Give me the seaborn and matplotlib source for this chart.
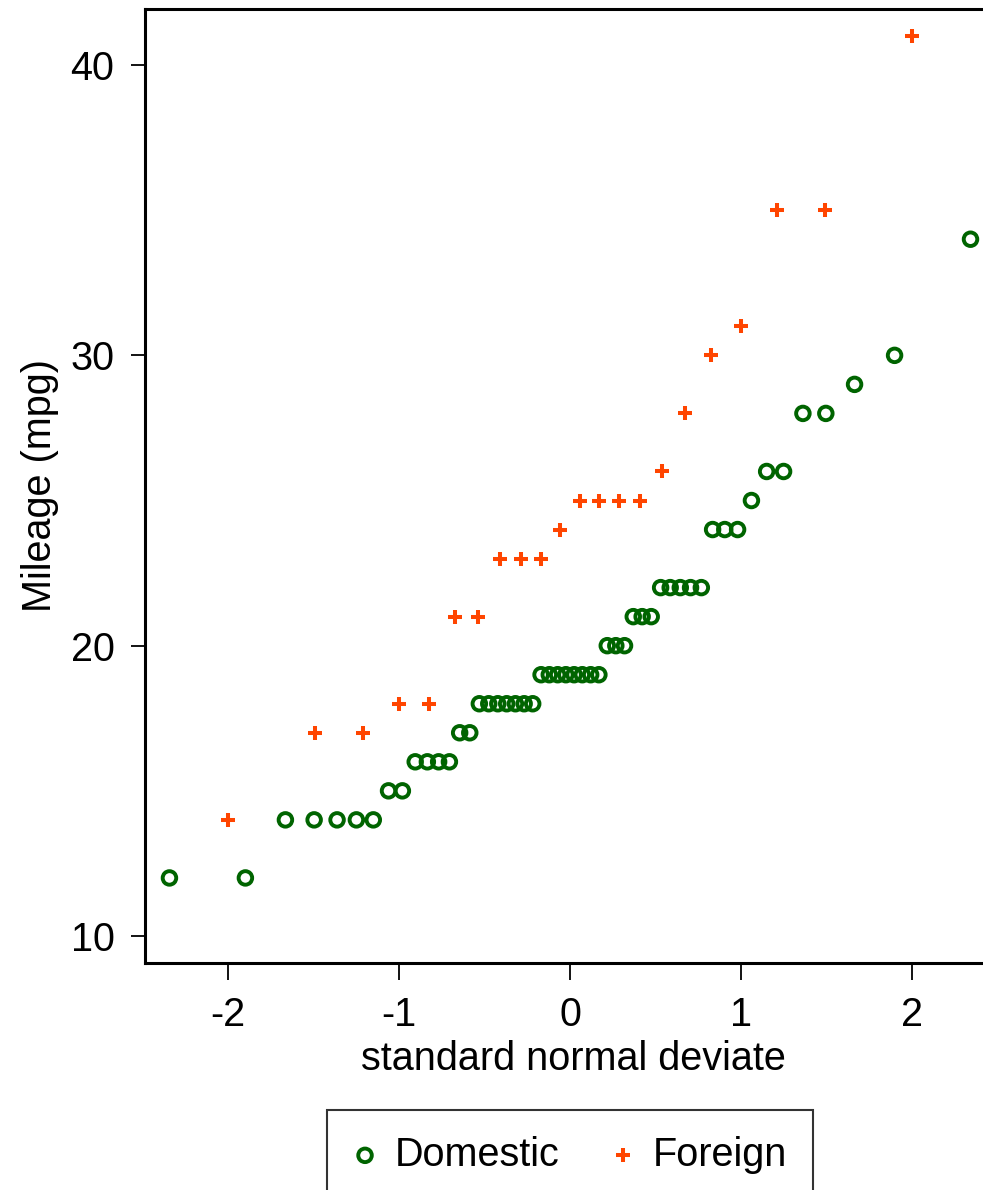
import matplotlib
matplotlib.use("Agg")
import matplotlib.pyplot as plt
import seaborn as sns
import pandas as pd

# Domestic cars: mileage (sorted) and plotting position (standard normal deviate)
dom_mpg = [12, 12, 14, 14, 14, 14, 14, 15, 15, 16, 16, 16, 16, 17, 17,
           18, 18, 18, 18, 18, 18, 18, 19, 19, 19, 19, 19, 19, 19, 19,
           20, 20, 20, 21, 21, 21, 22, 22, 22, 22, 22, 24, 24, 24, 25,
           26, 26, 28, 28, 29, 30, 34]
dom_z = [-2.342, -1.898, -1.664, -1.496, -1.362, -1.249, -1.150, -1.061, -0.980,
         -0.905, -0.834, -0.768, -0.705, -0.645, -0.586, -0.530, -0.475, -0.422,
         -0.370, -0.319, -0.268, -0.218, -0.169, -0.121, -0.072, -0.024,
         0.024, 0.072, 0.121, 0.169, 0.218, 0.268, 0.319, 0.370, 0.422, 0.475,
         0.530, 0.586, 0.645, 0.705, 0.768, 0.834, 0.905, 0.980, 1.061, 1.150,
         1.249, 1.362, 1.496, 1.664, 1.898, 2.342]

# Foreign cars
for_mpg = [14, 17, 17, 18, 18, 21, 21, 23, 23, 23, 24, 25, 25, 25, 25,
           26, 28, 30, 31, 35, 35, 41]
for_z = [-2.000, -1.491, -1.208, -0.998, -0.825, -0.674, -0.537, -0.410, -0.289,
         -0.172, -0.057, 0.057, 0.172, 0.289, 0.410, 0.537, 0.674, 0.825, 0.998,
         1.208, 1.491, 2.000]

x_ticks = [-2, -1, 0, 1, 2]
y_ticks = [10, 20, 30, 40]
groups = ["Domestic", "Foreign"]

sns.set_style("white")
plt.rcParams['font.family'] = ['Liberation Sans', 'DejaVu Sans']
plt.rcParams['text.color'] = 'black'
plt.rcParams['axes.labelcolor'] = 'black'

FS = 28.5

fig = plt.figure(figsize=(9.83, 11.9), dpi=100)
ax = fig.add_axes([145/983, 227/1190, 1.02 - 145/983, (1181 - 227)/1190])

dom = pd.DataFrame({"z": dom_z, "mpg": dom_mpg})
frn = pd.DataFrame({"z": for_z, "mpg": for_mpg})

green = "#006400"
orange = "#ff4500"

sns.scatterplot(data=dom, x="z", y="mpg", ax=ax, marker="o", s=95,
                facecolors="none", edgecolor=green, linewidth=2.8,
                label=groups[0])
sns.scatterplot(data=frn, x="z", y="mpg", ax=ax, marker="+", s=105,
                color=orange, linewidth=2.9, label=groups[1])

ax.set_xlim(-2.485, 2.53)
ax.set_ylim(9.07, 41.93)
ax.set_xticks(x_ticks)
ax.set_yticks(y_ticks)
ax.set_xticklabels([str(t) for t in x_ticks])
ax.set_yticklabels([str(t) for t in y_ticks])

for side in ["left", "bottom", "top"]:
    ax.spines[side].set_visible(True)
    ax.spines[side].set_linewidth(2.2)
    ax.spines[side].set_color("black")
ax.spines["right"].set_visible(False)

ax.tick_params(axis="x", direction="out", length=12, width=1.3, pad=12,
               labelsize=FS, colors="black", bottom=True)
ax.tick_params(axis="y", direction="out", length=10, width=1.3, pad=12,
               labelsize=FS, colors="black", left=True)

ax.set_xlabel("standard normal deviate", fontsize=FS, labelpad=4)
ax.set_ylabel("Mileage (mpg)", fontsize=FS, labelpad=8)

ax.get_legend().remove()
handles, labels = ax.get_legend_handles_labels()
leg = fig.legend(handles, labels, loc="upper center",
                 bbox_to_anchor=(570/983, (1190 - 1110)/1190),
                 borderaxespad=0.0,
                 ncol=2, frameon=True, fontsize=FS, fancybox=False,
                 edgecolor="black", borderpad=0.65, columnspacing=1.3,
                 handletextpad=0.45, handlelength=0.6, markerscale=1.0)
leg.get_frame().set_linewidth(1.5)

fig.savefig("out.png", dpi=100)
